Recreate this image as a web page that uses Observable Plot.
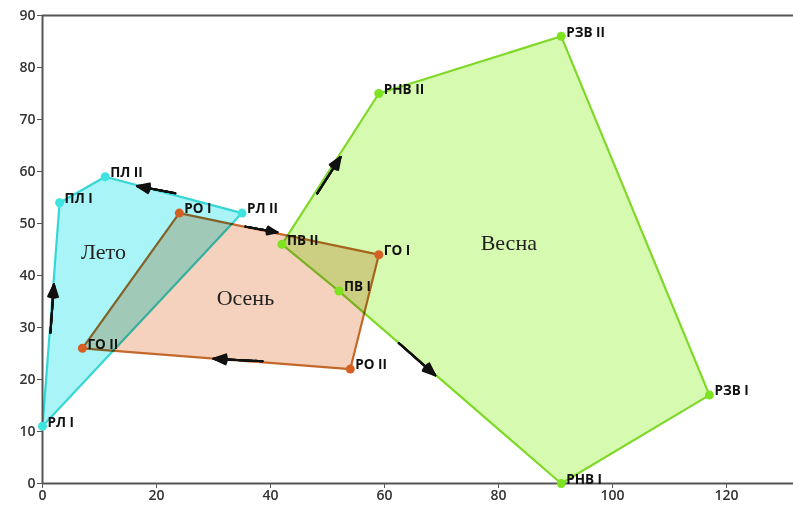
<!DOCTYPE html>
<html>
<head>
<meta charset="utf-8">
<script src="https://cdn.jsdelivr.net/npm/d3@7"></script>
<script src="https://cdn.jsdelivr.net/npm/@observablehq/plot@0.6"></script>
<style>
  html, body { margin: 0; padding: 0; background: #fff; }
  svg { display: block; }
</style>
</head>
<body>
<div id="chart"></div>
<script>
// Лето (summer) polygon
const letoNames = ["РЛ I", "ПЛ I", "ПЛ II", "РЛ II"];
const letoX = [0, 3, 11, 35];
const letoY = [11, 54, 59, 52];

// Осень (autumn) polygon
const osenNames = ["РО I", "ГО I", "РО II", "ГО II"];
const osenX = [24, 59, 54, 7];
const osenY = [52, 44, 22, 26];

// Весна (spring) polygon
const vesnaNames = ["ПВ II", "РНВ II", "РЗВ II", "РЗВ I", "РНВ I", "ПВ I"];
const vesnaX = [42, 59, 91, 117, 91, 52];
const vesnaY = [46, 75, 86, 17, 0, 37];

// Season labels
const seasonNames = ["Лето", "Осень", "Весна"];
const seasonX = [10.7, 35.6, 81.8];
const seasonY = [44.6, 35.6, 46.3];

// Arrows (from -> to)
const arrowX1 = [1.4, 23.3, 35.6, 38.6, 48.2, 62.5];
const arrowY1 = [29, 55.8, 49.4, 23.5, 55.8, 27.0];
const arrowX2 = [2.0, 16.6, 41.2, 30.0, 52.3, 68.9];
const arrowY2 = [38.3, 57.2, 48.3, 24.0, 62.8, 20.8];

const xTicks = [0, 20, 40, 60, 80, 100, 120];
const yTicks = [0, 10, 20, 30, 40, 50, 60, 70, 80, 90];

const toRows = (names, xs, ys) => names.map((n, i) => ({name: n, x: xs[i], y: ys[i]}));
const leto = toRows(letoNames, letoX, letoY);
const osen = toRows(osenNames, osenX, osenY);
const vesna = toRows(vesnaNames, vesnaX, vesnaY);
const seasons = toRows(seasonNames, seasonX, seasonY);
const arrows = arrowX1.map((v, i) => ({x1: v, y1: arrowY1[i], x2: arrowX2[i], y2: arrowY2[i]}));

const C = {
  leto:  {fill: "#a8f4f7", stroke: "#36d6d4", dot: "#3fe3e0"},
  osen:  {fill: "#f4d2bd", stroke: "#c4672a", dot: "#d65f24"},
  vesna: {fill: "#d5fab0", stroke: "#80d829", dot: "#7ee320"}
};

const polygon = (data, c) => Plot.line(data, {
  x: "x", y: "y", curve: "linear-closed",
  fill: c.fill, stroke: c.stroke, strokeWidth: 2.2,
  mixBlendMode: "multiply"
});
const dots = (data, c) => Plot.dot(data, {x: "x", y: "y", r: 4.5, fill: c.dot, stroke: "none"});
const labels = (data) => Plot.text(data, {
  x: "x", y: "y", text: "name", textAnchor: "start", dx: 5, dy: -4,
  fill: "#111", fontSize: 13.5, fontWeight: 700, fontFamily: "Open Sans"
});
// arrow with a filled-looking head: several heads with narrowing angles
const arrowMarks = [44, 34, 24, 14, 5].map((a) => Plot.arrow(arrows, {
  x1: "x1", y1: "y1", x2: "x2", y2: "y2",
  stroke: "#111", strokeWidth: 2, headLength: 10, headAngle: a
}));

const chart = Plot.plot({
  width: 793,
  height: 507,
  marginLeft: 42,
  marginRight: 0,
  marginTop: 15,
  marginBottom: 24,
  x: {domain: [0, 131.75]},
  y: {domain: [0, 90]},
  style: {fontFamily: "Open Sans", background: "#fff"},
  marks: [
    polygon(leto, C.leto),
    polygon(osen, C.osen),
    polygon(vesna, C.vesna),
    Plot.ruleY([90], {stroke: "#555", strokeWidth: 2}),
    Plot.ruleY([0], {stroke: "#555", strokeWidth: 2}),
    Plot.ruleX([0], {stroke: "#555", strokeWidth: 2}),
    Plot.axisX({ticks: xTicks, tickSize: 5, tickPadding: 2, fontSize: 14, fontWeight: 600, fill: "#333", stroke: "#555", label: null}),
    Plot.axisY({ticks: yTicks, tickSize: 5, tickPadding: 2, fontSize: 14, fontWeight: 600, fill: "#333", stroke: "#555", label: null}),
    ...arrowMarks,
    dots(leto, C.leto),
    dots(osen, C.osen),
    dots(vesna, C.vesna),
    labels(leto),
    labels(osen),
    labels(vesna),
    Plot.text(seasons, {x: "x", y: "y", text: "name", fontFamily: "Liberation Serif", fontSize: 22, fill: "#222"})
  ]
});
document.getElementById("chart").appendChild(chart);
</script>
</body>
</html>
